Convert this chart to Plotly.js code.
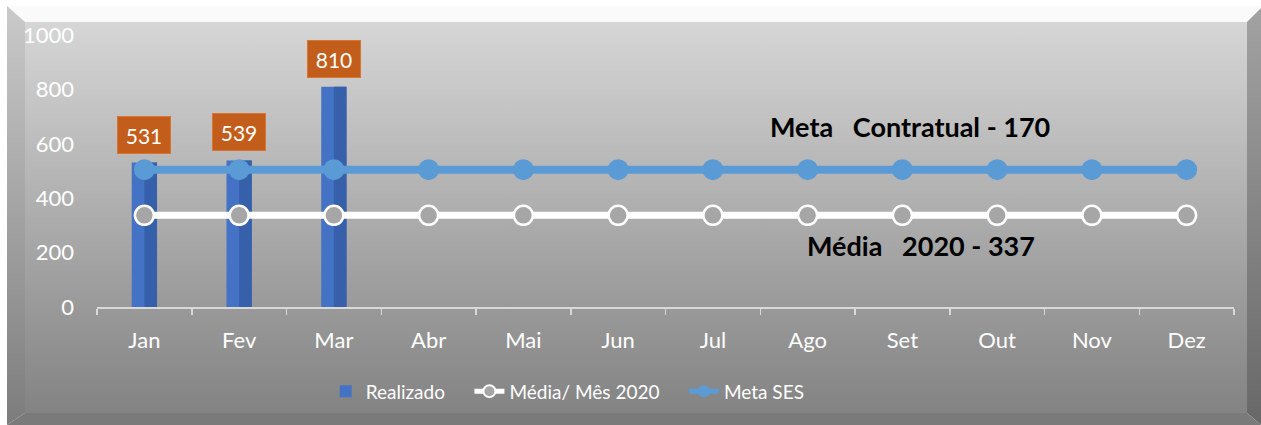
<!DOCTYPE html>
<html>
<head>
<meta charset="utf-8">
<script src="https://cdn.plot.ly/plotly-3.0.1.min.js"></script>
<style>
  html, body { margin: 0; padding: 0; background: #ffffff; }
  #wrap { position: relative; width: 1261px; height: 425px; overflow: hidden; }
  #frame { position: absolute; left: 0; top: 0; }
  #chart { position: absolute; left: 0; top: 0; width: 1261px; height: 425px; }
</style>
</head>
<body>
<div id="wrap">
  <svg id="frame" width="1261" height="425" xmlns="http://www.w3.org/2000/svg">
    <defs>
      <linearGradient id="gFront" x1="0" y1="0" x2="0" y2="1">
        <stop offset="0" stop-color="#d6d6d6"/>
        <stop offset="1" stop-color="#838383"/>
      </linearGradient>
      <linearGradient id="gLeft" x1="0" y1="0" x2="0" y2="1">
        <stop offset="0" stop-color="#cacaca"/>
        <stop offset="1" stop-color="#7c7c7c"/>
      </linearGradient>
      <linearGradient id="gRight" x1="0" y1="0" x2="0" y2="1">
        <stop offset="0" stop-color="#a2a2a2"/>
        <stop offset="1" stop-color="#686868"/>
      </linearGradient>
    </defs>
    <polygon points="7,6 1261,6 1247,22 25,22" fill="#fafafa"/>
    <polygon points="7,6 25,22 25,413 7,425" fill="url(#gLeft)"/>
    <polygon points="1247,22 1261,8 1261,425 1247,413" fill="url(#gRight)"/>
    <polygon points="25,413 1247,413 1261,425 7,425" fill="#7a7a7a"/>
    <rect x="25" y="22" width="1222" height="391" fill="url(#gFront)"/>
  </svg>
  <div id="chart"></div>
</div>
<script>
// ---- data ----
const months = ['Jan','Fev','Mar','Abr','Mai','Jun','Jul','Ago','Set','Out','Nov','Dez'];
const realizado = [531, 539, 810, null, null, null, null, null, null, null, null, null];
const media2020 = [337, 337, 337, 337, 337, 337, 337, 337, 337, 337, 337, 337];
const metaSES   = [505, 505, 505, 505, 505, 505, 505, 505, 505, 505, 505, 505];
const yTicks = [0, 200, 400, 600, 800, 1000];
const seriesNames = ['Realizado', 'Média/ Mês 2020', 'Meta SES'];
const noteMeta  = 'Meta\u00a0\u00a0\u00a0Contratual - 170';
const noteMedia = 'Média\u00a0\u00a0\u00a02020 - 337';

const FONT = 'Lato, "Open Sans", sans-serif';
const barW = 0.267;
const pad = '\u00a0\u00a0\u00a0\u00a0';

const traces = [
  {
    type: 'bar', name: seriesNames[0] + pad, x: months, y: realizado,
    width: barW, marker: { color: '#4472c4' }, hoverinfo: 'x+y'
  },
  {
    type: 'bar', name: 'lado', x: months, y: realizado,
    width: barW / 2, offset: 0, marker: { color: '#3660a9' },
    showlegend: false, hoverinfo: 'skip'
  },
  {
    type: 'scatter', mode: 'lines+markers', name: seriesNames[1] + pad, x: months, y: media2020,
    line: { color: '#ffffff', width: 7 },
    marker: { size: 19, color: '#a6a6a6', line: { color: '#ffffff', width: 2.5 } }
  },
  {
    type: 'scatter', mode: 'lines+markers', name: seriesNames[2], x: months, y: metaSES,
    line: { color: '#5b9bd5', width: 8 },
    marker: { size: 21, color: '#5b9bd5' }
  }
];

const annotations = [];
realizado.forEach((v, i) => {
  if (v === null) return;
  annotations.push({
    x: months[i], y: v, xref: 'x', yref: 'y', yanchor: 'bottom', yshift: 9,
    text: String(v), showarrow: false,
    font: { family: FONT, size: 21, color: '#ffffff' },
    bgcolor: '#c25d1b', bordercolor: '#d9752f', borderwidth: 1,
    width: 46, height: 30, borderpad: 3
  });
});
annotations.push({
  x: 8.08, y: 663, xref: 'x', yref: 'y', text: '<b>' + noteMeta + '</b>', showarrow: false,
  font: { family: FONT, size: 27, color: '#000000' }
});
annotations.push({
  x: 8.2, y: 227, xref: 'x', yref: 'y', text: '<b>' + noteMedia + '</b>', showarrow: false,
  font: { family: FONT, size: 27, color: '#000000' }
});

const layout = {
  width: 1261, height: 425,
  margin: { l: 97, r: 27, t: 35, b: 118, pad: 0 },
  paper_bgcolor: 'rgba(0,0,0,0)',
  plot_bgcolor: 'rgba(0,0,0,0)',
  barmode: 'overlay',
  showlegend: true,
  font: { family: FONT, color: '#ffffff', size: 19 },
  xaxis: {
    type: 'category', range: [-0.5, 11.5],
    showgrid: false, zeroline: false,
    showline: true, linecolor: '#d9d9d9', linewidth: 1.5,
    ticks: 'outside', tickson: 'boundaries', ticklen: 6, tickcolor: '#d9d9d9', tickwidth: 1.5,
    ticklabelstandoff: 13,
    tickfont: { family: FONT, size: 22, color: '#ffffff' }
  },
  yaxis: {
    range: [0, 1000], tickvals: yTicks, ticktext: yTicks.map(String),
    showgrid: false, zeroline: false, showline: false, ticks: '',
    ticklabelstandoff: 22,
    tickfont: { family: FONT, size: 22, color: '#ffffff' }
  },
  legend: {
    orientation: 'h', x: 0.414, xanchor: 'center', y: -0.31, yanchor: 'middle',
    font: { family: FONT, size: 19, color: '#ffffff' },
    bgcolor: 'rgba(0,0,0,0)', itemsizing: 'constant', traceorder: 'normal'
  },
  annotations: annotations
};

Plotly.newPlot('chart', traces, layout, { displayModeBar: false, staticPlot: true });
</script>
</body>
</html>
